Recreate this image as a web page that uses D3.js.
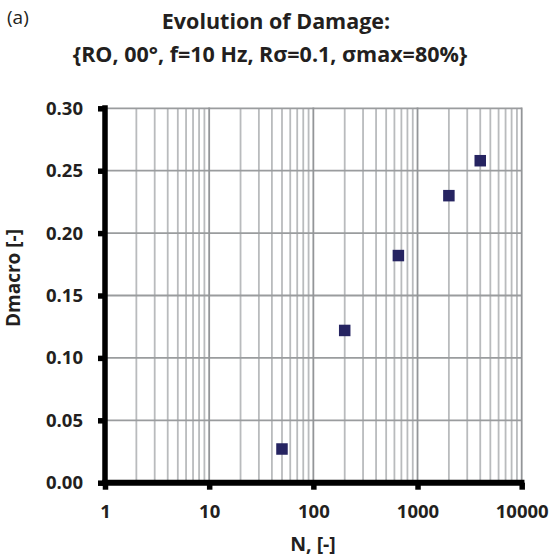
<!DOCTYPE html>
<html>
<head>
<meta charset="utf-8">
<script src="https://cdn.jsdelivr.net/npm/d3@7"></script>
<style>
  body { margin: 0; background: #fff; }
  text { font-family: "Open Sans", sans-serif; fill: #231f20; }
</style>
</head>
<body>
<svg id="chart" width="551" height="558"></svg>
<script>
// data
const nCycles = [50, 200, 655, 2000, 4000];
const damage = [0.027, 0.122, 0.182, 0.230, 0.258];
const xTickValues = [1, 10, 100, 1000, 10000];
const yTickValues = [0, 0.05, 0.10, 0.15, 0.20, 0.25, 0.30];
const titleLines = ["Evolution of Damage:", "{RO, 00°, f=10 Hz, Rσ=0.1, σmax=80%}"];

let svg = d3.select("#chart");

let xMap = d3.scaleLog()
    .domain([1, 10000])
    .range([105, 521.7]);
let yMap = d3.scaleLinear()
    .domain([0, 0.30])
    .range([482.7, 108.3]);

// grid
let grid = svg.append("g").attr("id", "grid");
let minor = xMap.ticks().filter(d => !xTickValues.includes(d));
grid.selectAll("line.minor").data(minor).enter().append("line")
    .attr("x1", d => xMap(d)).attr("x2", d => xMap(d))
    .attr("y1", yMap(0.30)).attr("y2", yMap(0))
    .attr("stroke", "#b9bbbd").attr("stroke-width", 1.8);
grid.selectAll("line.hgrid").data(yTickValues.slice(1)).enter().append("line")
    .attr("x1", xMap(1)).attr("x2", xMap(10000))
    .attr("y1", d => yMap(d)).attr("y2", d => yMap(d))
    .attr("stroke", "#9a9c9e").attr("stroke-width", 1.8);
grid.selectAll("line.major").data(xTickValues.slice(1)).enter().append("line")
    .attr("x1", d => xMap(d)).attr("x2", d => xMap(d))
    .attr("y1", yMap(0.30) - 0.9).attr("y2", yMap(0))
    .attr("stroke", "#939598").attr("stroke-width", 1.8);

// axes
let xAxis = d3.axisBottom(xMap)
    .tickValues(xTickValues)
    .tickFormat(d3.format("d"))
    .tickSize(7).tickPadding(15);
let yAxis = d3.axisLeft(yMap)
    .tickValues(yTickValues)
    .tickFormat(d3.format(".2f"))
    .tickSize(7).tickPadding(15);

let gx = svg.append("g").attr("transform", `translate(0,${yMap(0)})`).call(xAxis);
let gy = svg.append("g").attr("transform", `translate(${xMap(1)},0)`).call(yAxis);
[gx, gy].forEach(g => {
    g.select(".domain").remove();
    g.selectAll(".tick line").attr("stroke", "#000").attr("stroke-width", 5.5);
    g.selectAll(".tick text")
        .style("font-family", "'Open Sans', sans-serif")
        .style("font-weight", "bold")
        .style("font-size", "18.5px")
        .attr("fill", "#231f20");
});
// thick axis lines
svg.append("line")
    .attr("x1", xMap(1)).attr("x2", xMap(1))
    .attr("y1", yMap(0.30) - 3).attr("y2", yMap(0))
    .attr("stroke", "#000").attr("stroke-width", 5.5);
svg.append("line")
    .attr("x1", xMap(1) - 2.75).attr("x2", xMap(10000) + 2.75)
    .attr("y1", yMap(0)).attr("y2", yMap(0))
    .attr("stroke", "#000").attr("stroke-width", 6);

// points
let sz = 11.5;
svg.append("g").selectAll("rect").data(nCycles).enter().append("rect")
    .attr("x", (d, i) => xMap(d) - sz / 2)
    .attr("y", (d, i) => yMap(damage[i]) - sz / 2)
    .attr("width", sz).attr("height", sz)
    .attr("fill", "#262461");

// titles
svg.append("text").attr("x", 7).attr("y", 24)
    .style("font-size", "19px").text("(a)");
svg.selectAll("text.title").data(titleLines).enter().append("text")
    .attr("class", "title")
    .attr("x", (d, i) => i == 0 ? 276 : 270)
    .attr("y", (d, i) => 29 + i * 33)
    .attr("text-anchor", "middle")
    .style("font-size", "21.5px").style("font-weight", "bold")
    .text(d => d);
svg.append("text").attr("x", 313).attr("y", 551)
    .attr("text-anchor", "middle")
    .style("font-size", "19.5px").style("font-weight", "bold")
    .text("N, [-]");
svg.append("text")
    .attr("transform", "translate(20,278) rotate(-90)")
    .attr("text-anchor", "middle")
    .style("font-size", "19px").style("font-weight", "bold")
    .text("Dmacro [-]");
</script>
</body>
</html>
